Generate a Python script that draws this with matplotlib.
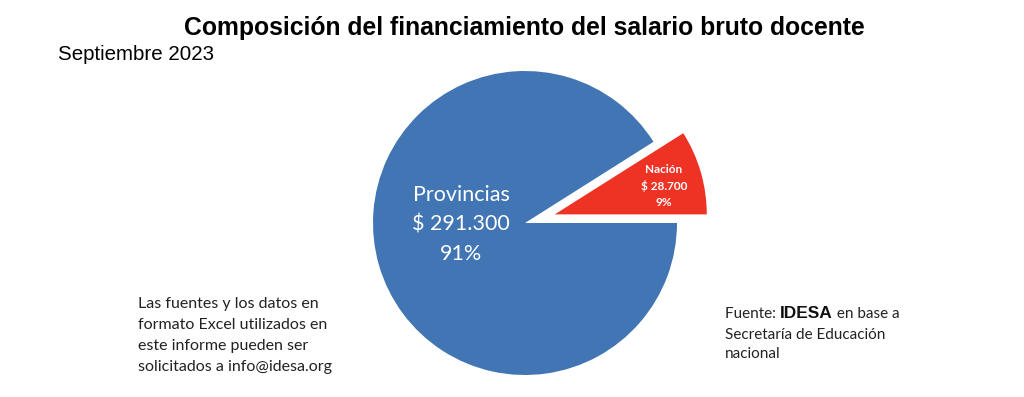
import matplotlib
matplotlib.use("Agg")
import matplotlib.pyplot as plt

# ---- data ----
categories = ["Nación", "Provincias"]
values = [28700, 291300]
colors = ["#EE3325", "#4175B3"]
title = "Composición del financiamiento del salario bruto docente"
subtitle = "Septiembre 2023"
note_left = ("Las fuentes y los datos en\nformato Excel utilizados en\n"
             "este informe pueden ser\nsolicitados a info@idesa.org")

W, H = 1024, 397
fig = plt.figure(figsize=(W / 100, H / 100), dpi=100)
ax = fig.add_axes([0, 0, 1, 1])

def Y(y):
    return H - y

total = sum(values)
cx, cy, r = 525, Y(223), 152
wedges, _ = ax.pie(values, colors=colors, startangle=0, counterclock=True,
                   explode=[31, 0], center=(cx, cy), radius=r,
                   wedgeprops=dict(linewidth=0))
ax.set_xlim(0, W)
ax.set_ylim(0, H)
ax.set_aspect("auto")
ax.axis("off")

def money(v):
    return "$ " + f"{v:,.0f}".replace(",", ".")

def pct(v):
    return f"{round(100 * v / total)}%"

calibri = ["Lato", "DejaVu Sans"]
arial = ["Liberation Sans", "DejaVu Sans"]

# labels
ax.text(461, Y(224.5), f"{categories[1]}\n{money(values[1])}\n{pct(values[1])}",
        ha="center", va="center", color="white", fontsize=15.5,
        linespacing=1.6, family=calibri)
ax.text(664, Y(186), f"{categories[0]}\n{money(values[0])}\n{pct(values[0])}",
        ha="center", va="center", color="white", fontsize=8.5,
        fontweight="bold", linespacing=1.5, family=calibri)

# titles
ax.text(524, Y(28), title, ha="center", va="center", fontsize=17.8,
        fontweight="bold", family=arial)
ax.text(58, Y(54), subtitle, ha="left", va="center", fontsize=14.8,
        family=arial)

# notes
ax.text(138, Y(335.5), note_left, ha="left", va="center", fontsize=11.5,
        linespacing=1.65, family=calibri, color="#222222")

t1 = ax.text(725, Y(318.5), "Fuente: ", ha="left", va="baseline", fontsize=11,
             family=calibri, color="#222222")
t2 = ax.annotate("IDESA", xy=(1, 0), xycoords=t1, ha="left", va="bottom",
                 fontsize=12.5, fontweight="black", family=arial,
                 color="#111111")
t3 = ax.annotate(" en base a", xy=(1, 0), xycoords=t2, ha="left", va="bottom",
                 fontsize=11, family=calibri, color="#222222")
ax.text(725, Y(328), "Secretaría de Educación\nnacional", ha="left", va="top",
        fontsize=11, linespacing=1.5, family=calibri, color="#222222")

fig.savefig("out.png", dpi=100)
